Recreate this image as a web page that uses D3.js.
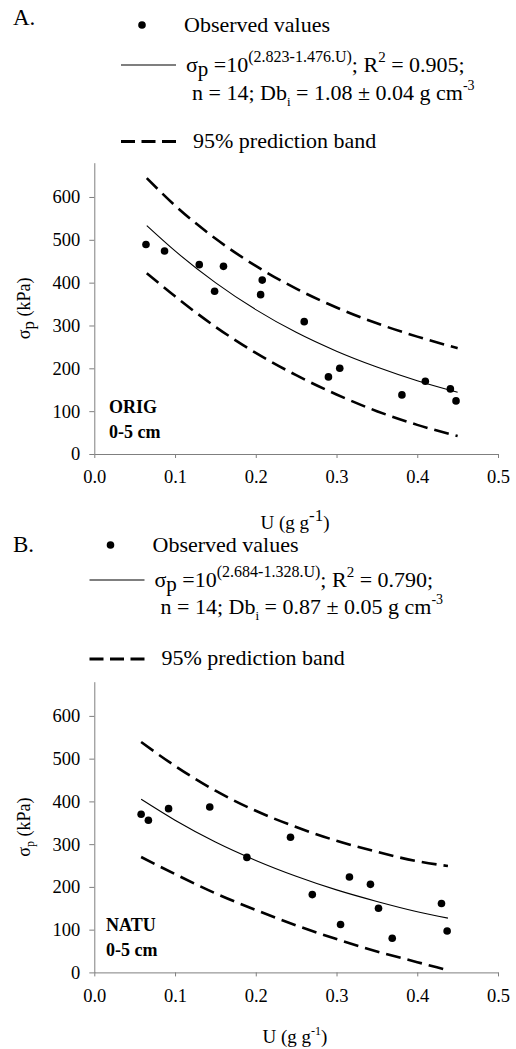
<!DOCTYPE html>
<html>
<head>
<meta charset="utf-8">
<script src="https://cdn.jsdelivr.net/npm/d3@7"></script>
<style>
  body { margin: 0; background: #fff; }
</style>
</head>
<body>
<svg id="chart" width="516" height="1049"></svg>
<script>
// ---- data ----
var xTicks = [0.0, 0.1, 0.2, 0.3, 0.4, 0.5];
var yTicks = [0, 100, 200, 300, 400, 500, 600];

// panel A (ORIG)
var obsUA = [0.064, 0.087, 0.130, 0.149, 0.160, 0.206, 0.208, 0.260, 0.290, 0.304, 0.381, 0.410, 0.441, 0.448];
var obsSA = [489, 474, 442, 380, 438, 372, 406, 309, 180, 200, 138, 170, 152, 124];
var curveUA = [0.065, 0.10, 0.15, 0.20, 0.25, 0.30, 0.35, 0.40, 0.45];
var fitA    = [533, 474, 400, 337, 284, 240, 203, 171, 144];
var upperA  = [644, 580, 503, 439, 386, 342, 305, 274, 247];
var lowerA  = [422, 368, 297, 236, 184, 139, 100, 68, 42];

// panel B (NATU)
var obsUB = [0.058, 0.067, 0.092, 0.143, 0.189, 0.243, 0.270, 0.305, 0.316, 0.342, 0.352, 0.369, 0.430, 0.437];
var obsSB = [370, 356, 383, 387, 269, 316, 182, 112, 223, 206, 150, 80, 161, 97];
var curveUB = [0.058, 0.10, 0.15, 0.20, 0.25, 0.30, 0.35, 0.40, 0.438];
var fitB    = [405, 356, 305, 262, 225, 193, 166, 142, 127];
var upperB  = [539, 483, 425, 378, 340, 308, 282, 260, 249];
var lowerB  = [270, 230, 185, 146, 110, 78, 49, 24, 5];

var FONT = "'Liberation Serif'";

var svg = d3.select('#chart').style('font-family', FONT);
svg.append('rect').attr('width', 516).attr('height', 1049).attr('fill', '#fff');

function drawPanel(p) {
  var x = d3.scaleLinear().domain([0, 0.5]).range([94.3, 498]);
  var y = d3.scaleLinear().domain([0, 680]).range([p.y0, p.yTop]);
  var g = svg.append('g').style('font-family', FONT);

  // panel letter
  g.append('text').attr('x', 13).attr('y', p.letterY)
    .style('font-size', '23px').text(p.letter);

  // legend: observed values
  var lx = p.legX;
  g.append('circle').attr('cx', lx + 21).attr('cy', p.legY[0]).attr('r', 3.8).attr('fill', '#000');
  g.append('text').attr('x', lx + 63).attr('y', p.legY[0] + 7)
    .style('font-size', '22px').text('Observed values');

  // legend: fitted equation
  g.append('line').attr('x1', lx).attr('x2', lx + 55)
    .attr('y1', p.legY[1]).attr('y2', p.legY[1])
    .attr('stroke', '#000').attr('stroke-width', 1.2);
  var eq = g.append('text').attr('x', lx + 65).attr('y', p.legY[1] + 7).style('font-size', '22px');
  eq.append('tspan').text('σ');
  eq.append('tspan').attr('dy', 4).style('font-size', '21px').text('p');
  eq.append('tspan').attr('dy', -4).text(' =10');
  eq.append('tspan').attr('dy', -10).style('font-size', '16px').text('(' + p.coef[0] + '-' + p.coef[1] + '.U)');
  eq.append('tspan').attr('dy', 10).text('; R');
  eq.append('tspan').attr('dy', -10).style('font-size', '15px').text('2');
  eq.append('tspan').attr('dy', 10).text(' = ' + p.r2 + ';');

  var l2 = g.append('text').attr('x', lx + 71).attr('y', p.legY[2]).style('font-size', '22px');
  l2.append('tspan').text('n = ' + p.n + '; Db');
  l2.append('tspan').attr('dy', 6).style('font-size', '13px').text('i');
  l2.append('tspan').attr('dy', -6).text(' = ' + p.db + ' g cm');
  l2.append('tspan').attr('dy', -10).style('font-size', '14px').text('-3');

  // legend: prediction band
  g.append('line').attr('x1', lx).attr('x2', lx + 55)
    .attr('y1', p.legY[3]).attr('y2', p.legY[3])
    .attr('stroke', '#000').attr('stroke-width', 3).attr('stroke-dasharray', '14,6.5');
  g.append('text').attr('x', lx + 72).attr('y', p.legY[3] + 6)
    .style('font-size', '22px').text('95% prediction band');

  // axes
  var ya = g.append('g').attr('transform', 'translate(94.3,0)')
    .call(d3.axisLeft(y).tickValues(yTicks).tickSize(5).tickSizeOuter(0).tickPadding(9));
  var xa = g.append('g').attr('transform', 'translate(0,' + p.y0 + ')')
    .call(d3.axisBottom(x).tickValues(xTicks).tickSize(4).tickSizeOuter(0).tickPadding(12)
      .tickFormat(d3.format('.1f')));
  [ya, xa].forEach(function(a) {
    a.attr('font-family', null).style('font-family', FONT);
    a.selectAll('path, line').attr('stroke', '#7f7f7f');
    a.selectAll('text').style('font-size', '18.5px').style('font-family', FONT).attr('fill', '#000');
  });

  // y label
  var yl = g.append('text')
    .attr('transform', 'translate(30,' + ((p.y0 + p.yTop) / 2) + ') rotate(-90)')
    .attr('text-anchor', 'middle').style('font-size', '18px');
  yl.append('tspan').text('σ');
  yl.append('tspan').attr('dy', 4).style('font-size', p.big ? '17px' : '12px').text('p');
  yl.append('tspan').attr('dy', -4).text(' (kPa)');

  // x label
  var xl = g.append('text').attr('x', 295).attr('y', p.xLabY)
    .attr('text-anchor', 'middle').style('font-size', '19px');
  xl.append('tspan').text('U (g g');
  xl.append('tspan').attr('dy', -8).style('font-size', p.big ? '17px' : '12px').text('-1');
  xl.append('tspan').attr('dy', 8).text(')');

  // site label
  g.append('text').attr('x', p.siteX).attr('y', p.y0 - 41)
    .style('font-size', '18px').style('font-weight', 'bold').text(p.site);
  g.append('text').attr('x', p.siteX).attr('y', p.y0 - 16)
    .style('font-size', '18px').style('font-weight', 'bold').text('0-5 cm');

  // curves
  var line = d3.line()
    .x(function(d) { return x(d[0]); })
    .y(function(d) { return y(d[1]); })
    .curve(d3.curveMonotoneX);
  function pairs(vals) { return p.curveU.map(function(u, i) { return [u, vals[i]]; }); }

  g.append('path').attr('d', line(pairs(p.upper))).attr('fill', 'none')
    .attr('stroke', '#000').attr('stroke-width', 2.6).attr('stroke-dasharray', '15,7');
  g.append('path').attr('d', line(pairs(p.lower))).attr('fill', 'none')
    .attr('stroke', '#000').attr('stroke-width', 2.6).attr('stroke-dasharray', '15,7');
  g.append('path').attr('d', line(pairs(p.fit))).attr('fill', 'none')
    .attr('stroke', '#000').attr('stroke-width', 1.1);

  // observed points
  g.selectAll('.obs')
    .data(p.obsU.map(function(u, i) { return [u, p.obsS[i]]; }))
    .enter().append('circle')
    .attr('class', 'obs')
    .attr('cx', function(d) { return x(d[0]); })
    .attr('cy', function(d) { return y(d[1]); })
    .attr('r', 3.8)
    .attr('fill', '#000');
}

drawPanel({
  letter: 'A.', letterY: 25, legX: 121, legY: [25, 65, 100, 141.5], big: true,
  coef: ['2.823', '1.476'], r2: '0.905', n: 14, db: '1.08 ± 0.04',
  y0: 454, yTop: 162.7, xLabY: 529, site: 'ORIG', siteX: 109,
  obsU: obsUA, obsS: obsSA, curveU: curveUA, fit: fitA, upper: upperA, lower: lowerA
});

drawPanel({
  letter: 'B.', letterY: 552, legX: 89.5, legY: [545, 580, 614, 659], big: false,
  coef: ['2.684', '1.328'], r2: '0.790', n: 14, db: '0.87 ± 0.05',
  y0: 972.4, yTop: 681.7, xLabY: 1043, site: 'NATU', siteX: 106,
  obsU: obsUB, obsS: obsSB, curveU: curveUB, fit: fitB, upper: upperB, lower: lowerB
});
</script>
</body>
</html>
